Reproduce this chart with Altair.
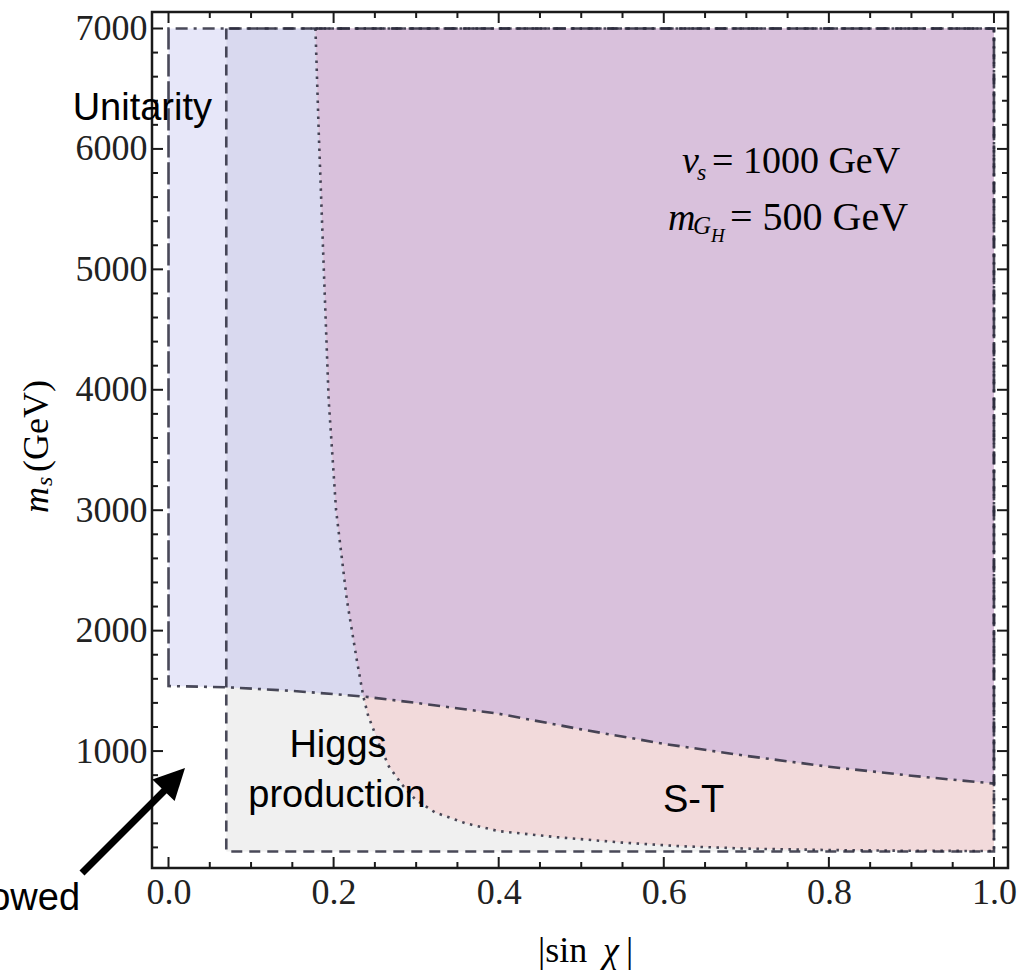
import altair as alt
import pandas as pd

# ---------------- data ----------------
# Unitarity boundary (dash-dot curve), region lies above it up to 7000
unit_x = [0.0, 0.07, 0.15, 0.236, 0.30, 0.40, 0.50, 0.60, 0.70, 0.80, 0.90, 1.00]
unit_y = [1540, 1530, 1500, 1453, 1400, 1310, 1180, 1060, 960, 870, 795, 730]

# S-T boundary (dotted curve), region lies to the right of / above it
st_x = [0.178, 0.182, 0.188, 0.194, 0.203, 0.216, 0.228, 0.236, 0.242, 0.255, 0.267,
        0.283, 0.299, 0.323, 0.36, 0.40, 0.47, 0.55, 0.62, 0.70, 0.80, 0.90, 1.00]
st_y = [7000, 6135, 5023, 3919, 3000, 2258, 1760, 1453, 1290, 1060, 872,
        720, 598, 490, 400, 335, 285, 240, 210, 190, 178, 172, 170]

# Higgs production region (dashed rectangle)
higgs_x = [0.07, 1.0]
higgs_y = [166, 7000]
region_top = 7000
region_right = 1.0
unit_left = 0.0

x_major = [0.0, 0.2, 0.4, 0.6, 0.8, 1.0]
x_minor = [0.05, 0.1, 0.15, 0.25, 0.3, 0.35, 0.45, 0.5, 0.55, 0.65, 0.7, 0.75, 0.85, 0.9, 0.95]
y_major = [1000, 2000, 3000, 4000, 5000, 6000, 7000]
y_minor = [200, 400, 600, 800, 1200, 1400, 1600, 1800, 2200, 2400, 2600, 2800,
           3200, 3400, 3600, 3800, 4200, 4400, 4600, 4800, 5200, 5400, 5600, 5800,
           6200, 6400, 6600, 6800]

# ---------------- styling ----------------
W, H = 856, 856
GRAY = "#f0f0f0"
LAV = "#e7e7f9"
BLUE = "#d9d9ef"
PINK = "#f2dadb"
PURP = "#d9c1dc"
LINE = "#2a2a3c"
TICK = "#1a1a1a"
SERIF = "Liberation Serif"
SANS = "Liberation Sans"

xs = alt.Scale(domain=[-0.02, 1.017], nice=False, zero=False)
ys = alt.Scale(domain=[29, 7137], nice=False, zero=False)

x_axis = alt.Axis(values=x_major, format=".1f", ticks=False, domain=False, grid=False,
                  labelFont=SERIF, labelFontSize=36, labelColor="#222", labelPadding=7,
                  labelFlush=False, labelOverlap=False, title=None)
y_axis = alt.Axis(values=y_major, format="d", ticks=False, domain=False, grid=False,
                  labelFont=SERIF, labelFontSize=36, labelColor="#222", labelPadding=5,
                  labelFlush=False, labelOverlap=False, title=None)

def X(f):
    return alt.X(f, scale=xs, axis=x_axis)

def Y(f):
    return alt.Y(f, scale=ys, axis=y_axis)

# ---------------- fills ----------------
df_h = pd.DataFrame({"x0": [higgs_x[0]], "x1": [higgs_x[1]], "y0": [higgs_y[0]], "y1": [higgs_y[1]]})
gray = alt.Chart(df_h).mark_rect(color=GRAY).encode(
    x=X("x0:Q"), x2="x1:Q", y=Y("y0:Q"), y2="y1:Q")

df_u = pd.DataFrame({"x": unit_x, "y": unit_y, "top": region_top})
df_s = pd.DataFrame({"x": st_x, "y": st_y, "top": region_top})
cross = 0.236
df_p = pd.concat([df_s[df_s.x <= cross], df_u[df_u.x > cross]], ignore_index=True)

def area(df, color):
    return alt.Chart(df).mark_area(color=color, opacity=1, orient="vertical").encode(
        x=X("x:Q"), y=Y("y:Q"), y2="top:Q")

lav = area(df_u[df_u.x <= higgs_x[0]], LAV)
blu = area(df_u[df_u.x >= higgs_x[0]], BLUE)
pink = area(df_s, PINK)
purp = area(df_p, PURP)

# ---------------- boundary lines ----------------
def path(xs_, ys_):
    return pd.DataFrame({"x": xs_, "y": ys_, "i": list(range(len(xs_)))})

unit_path = path([unit_left] + unit_x + [region_right, unit_left, unit_left],
                 [region_top] + unit_y + [region_top, region_top, unit_y[0]])
higgs_path = path([higgs_x[0], higgs_x[0], higgs_x[1], higgs_x[1], higgs_x[0]],
                  [higgs_y[1], higgs_y[0], higgs_y[0], higgs_y[1], higgs_y[1]])
st_path = path(st_x + [region_right, st_x[0]], st_y + [region_top, region_top])

def bline(df, dash, width=2.6):
    return alt.Chart(df).mark_line(color=LINE, strokeWidth=width, strokeDash=dash,
                                   opacity=0.85).encode(
        x=X("x:Q"), y=Y("y:Q"), order="i:Q")

l_h = bline(higgs_path, [11, 7])
l_u = bline(unit_path, [12, 6, 3, 6])
l_s = bline(st_path, [2.5, 5.5], 2.6)

# ---------------- frame ticks (inward) ----------------
def ticks_x(vals, L):
    d = pd.DataFrame({"v": vals})
    b = alt.Chart(d).mark_rule(color=TICK, strokeWidth=2).encode(
        x=X("v:Q"), y=alt.value(H), y2=alt.value(H - L))
    t = alt.Chart(d).mark_rule(color=TICK, strokeWidth=2).encode(
        x=X("v:Q"), y=alt.value(0), y2=alt.value(L))
    return [b, t]

def ticks_y(vals, L):
    d = pd.DataFrame({"v": vals})
    l = alt.Chart(d).mark_rule(color=TICK, strokeWidth=2).encode(
        y=Y("v:Q"), x=alt.value(0), x2=alt.value(L))
    r = alt.Chart(d).mark_rule(color=TICK, strokeWidth=2).encode(
        y=Y("v:Q"), x=alt.value(W), x2=alt.value(W - L))
    return [l, r]

tick_layers = ticks_x(x_major, 11) + ticks_x(x_minor, 6) + ticks_y(y_major, 11) + ticks_y(y_minor, 6)

# ---------------- text ----------------
def txt(x, y, s, size, font=SERIF, style="normal", align="left", angle=0):
    d = pd.DataFrame({"x": [x], "y": [y], "t": [s]})
    return alt.Chart(d).mark_text(align=align, baseline="alphabetic", fontSize=size,
                                  font=font, fontStyle=style, angle=angle,
                                  color="black").encode(
        x=X("x:Q"), y=Y("y:Q"), text="t:N")

texts = [
    txt(0.0527, 6240, "Unitarity", 38, SANS, align="right"),
    txt(0.2053, 951, "Higgs", 38, SANS, align="center"),
    txt(0.2041, 536, "production", 38, SANS, align="center"),
    txt(0.636, 494, "S-T", 38, SANS, align="center"),
    txt(-0.1072, -320, "Allowed", 38, SANS, align="right"),
    # v_s = 1000 GeV
    txt(0.6220, 5800, "v", 38, style="italic"),
    txt(0.6402, 5742, "s", 24, style="italic"),
    txt(0.6584, 5800, "= 1000 GeV", 38),
    # m_{G_H} = 500 GeV
    txt(0.6050, 5327, "m", 38, style="italic"),
    txt(0.6354, 5294, "G", 25, style="italic"),
    txt(0.6572, 5227, "H", 19, style="italic"),
    txt(0.6802, 5327, "= 500 GeV", 40),
    # x title |sin χ|
    txt(0.4476, -751, "|sin", 36),
    txt(0.5263, -751, "χ", 36, style="italic"),
    txt(0.5542, -751, "|", 36),
    # y title m_s (GeV)
    txt(-0.1460, 2977, "m", 36, style="italic", angle=270),
    txt(-0.1411, 3201, "s", 24, style="italic", angle=270),
    txt(-0.1460, 3317, "(GeV)", 36, angle=270),
]

# ---------------- arrow ----------------
arrow_x = [-0.1048, -0.0006]
arrow_y = [-12, 702]
head_x = [0.0200]
head_y = [859]
shaft = alt.Chart(pd.DataFrame({"x": arrow_x, "y": arrow_y})).mark_line(
    color="black", strokeWidth=7, strokeCap="butt").encode(x=X("x:Q"), y=Y("y:Q"))
head = alt.Chart(pd.DataFrame({"x": head_x, "y": head_y})).mark_point(
    shape="M0,0L1,2L-1,2Z", size=961, angle=44, filled=True, color="black",
    opacity=1, strokeWidth=0).encode(x=X("x:Q"), y=Y("y:Q"))

chart = alt.layer(
    gray, lav, blu, pink, purp, l_h, l_u, l_s, *tick_layers, *texts, shaft, head
).properties(
    width=W, height=H,
    padding={"left": 152, "top": 12, "right": 9, "bottom": 103},
    autosize=alt.AutoSizeParams(type="none"),
    background="white",
).configure_view(stroke="#1a1a1a", strokeWidth=2.5)

chart.save("out.html", embed_options={"renderer": "svg", "actions": False})
